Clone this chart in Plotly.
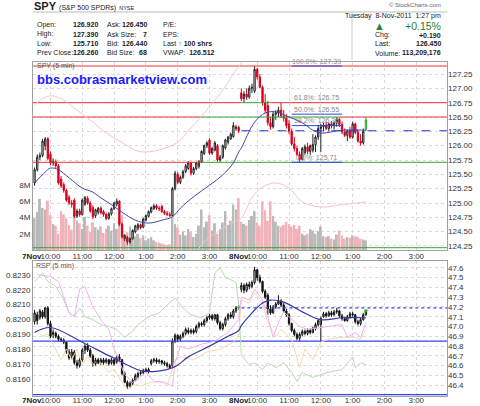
import plotly.graph_objects as go

FONT = "Liberation Sans, Arial, sans-serif"

# ---------------- SPY 5-min bars (7 Nov bars 0-77, 8 Nov bars 78-125) ----------------
spy_open = [
    125.35,125.58,125.80,125.83,126.00,126.12,125.85,125.70,125.72,125.65,
    125.42,125.32,125.22,125.10,125.00,125.05,124.77,124.86,124.80,124.98,
    125.08,125.00,124.92,124.78,124.84,124.91,124.85,124.80,124.73,124.81,
    124.90,124.98,125.03,124.63,124.38,124.40,124.32,124.38,124.50,124.56,
    124.62,124.58,124.70,124.77,124.84,124.90,124.95,124.91,124.94,124.85,
    124.82,124.80,124.78,125.25,125.50,125.36,125.45,125.55,125.60,125.70,
    125.52,125.60,125.64,125.72,125.86,126.00,126.10,125.87,125.92,126.00,
    125.75,125.80,125.96,126.06,126.12,126.16,126.30,126.32,
    126.92,126.82,126.90,126.85,127.00,126.95,127.33,127.20,127.02,126.75,
    126.70,126.40,126.33,126.55,126.57,126.62,126.52,126.48,126.38,126.25,
    126.03,125.95,125.85,125.76,125.88,125.98,125.90,125.92,126.02,126.15,
    126.30,126.33,126.36,126.30,126.38,126.35,126.40,126.46,126.37,126.24,
    126.18,126.26,126.15,126.38,126.23,126.08,126.05,126.28]
spy_high = [
    125.62,125.85,125.88,126.12,126.15,126.15,125.90,125.78,125.76,125.68,
    125.47,125.36,125.25,125.14,125.05,125.08,124.90,124.90,125.08,125.12,
    125.12,125.03,124.96,124.90,124.93,124.94,124.88,124.83,124.84,124.92,
    125.02,125.08,125.05,124.66,124.45,124.43,124.40,124.54,124.62,124.65,
    124.64,124.74,124.80,124.87,124.94,124.98,124.98,124.95,124.97,124.88,
    124.86,124.84,125.28,125.56,125.54,125.48,125.58,125.68,125.73,125.72,
    125.63,125.72,125.75,125.92,126.02,126.08,126.13,125.98,126.08,126.03,
    125.84,126.02,126.12,126.17,126.23,126.41,126.36,126.35,
    127.00,126.95,127.00,127.05,127.08,127.39,127.36,127.25,127.05,126.90,
    126.78,126.50,126.60,126.62,126.68,126.75,126.62,126.55,126.45,126.30,
    126.15,126.00,125.90,125.98,126.02,126.05,126.02,126.20,126.18,126.36,
    126.38,126.40,126.42,126.40,126.43,126.42,126.50,126.48,126.42,126.30,
    126.28,126.33,126.42,126.40,126.28,126.20,126.30,126.50]
spy_low = [
    125.30,125.55,125.75,125.80,125.92,125.75,125.66,125.65,125.60,125.32,
    125.26,125.18,125.02,124.96,124.92,124.74,124.74,124.76,124.78,124.95,
    124.97,124.83,124.72,124.74,124.80,124.80,124.76,124.70,124.71,124.78,
    124.88,124.94,124.60,124.38,124.34,124.27,124.29,124.36,124.47,124.52,
    124.54,124.56,124.68,124.75,124.82,124.88,124.88,124.86,124.83,124.79,
    124.77,124.75,124.76,125.22,125.33,125.33,125.42,125.52,125.58,125.48,
    125.49,125.57,125.60,125.70,125.84,125.96,125.84,125.84,125.90,125.72,
    125.72,125.77,125.93,126.02,126.10,126.14,126.26,126.22,
    126.78,126.75,126.80,126.82,126.92,126.92,127.15,127.00,126.70,126.57,
    126.35,126.28,126.30,126.45,126.50,126.48,126.42,126.30,126.20,126.00,
    125.90,125.82,125.71,125.74,125.84,125.85,125.84,125.88,125.89,126.10,
    125.89,126.25,126.27,126.25,126.30,126.28,126.33,126.33,126.20,126.15,
    126.08,126.12,126.12,126.20,126.05,126.00,126.02,126.26]
spy_close = [
    125.58,125.80,125.83,126.08,126.12,125.78,125.70,125.72,125.65,125.35,
    125.30,125.22,125.05,125.00,124.98,124.77,124.86,124.80,125.05,125.10,
    125.00,124.86,124.76,124.88,124.91,124.83,124.80,124.73,124.81,124.90,
    125.00,125.03,124.63,124.41,124.43,124.32,124.38,124.52,124.60,124.62,
    124.57,124.72,124.78,124.85,124.92,124.95,124.91,124.90,124.85,124.82,
    124.80,124.78,125.25,125.52,125.36,125.45,125.55,125.65,125.70,125.52,
    125.60,125.70,125.72,125.90,126.00,126.05,125.87,125.95,126.05,125.75,
    125.80,126.00,126.10,126.15,126.20,126.35,126.32,126.26,
    126.82,126.90,126.85,127.00,127.02,127.33,127.20,127.02,126.75,126.62,
    126.40,126.33,126.55,126.57,126.62,126.52,126.48,126.35,126.25,126.03,
    125.95,125.85,125.76,125.95,125.98,125.90,126.00,126.02,126.15,126.30,
    126.33,126.36,126.30,126.38,126.35,126.40,126.46,126.37,126.24,126.18,
    126.26,126.15,126.38,126.23,126.08,126.05,126.25,126.45]
spy_volume_m = [
    3.9,4.7,6.3,5.2,5.0,6.1,4.3,3.2,3.0,2.0,
    4.8,4.4,3.9,3.1,2.5,4.5,3.6,3.3,2.6,4.1,
    3.0,2.2,3.4,2.8,2.5,2.9,2.1,2.6,3.0,2.4,
    3.3,2.6,3.8,4.3,2.0,2.2,2.9,2.4,1.7,2.0,
    1.5,1.8,1.2,1.4,1.6,1.2,1.0,0.9,0.8,0.7,
    0.6,0.7,4.0,3.2,2.8,1.9,2.3,1.8,2.6,2.2,
    1.6,2.0,3.0,5.0,2.8,3.5,4.3,2.4,3.3,2.0,
    2.6,3.4,4.8,3.1,3.6,5.6,5.0,6.4,
    3.5,3.2,3.0,3.7,4.2,4.8,3.4,3.0,6.0,4.9,
    3.6,6.0,4.2,3.5,3.0,2.9,3.1,3.5,3.2,2.9,
    3.1,2.6,3.0,2.0,1.8,2.0,2.6,2.4,2.0,2.3,
    2.9,1.7,1.6,1.7,1.4,1.3,1.9,2.4,1.8,1.4,
    1.6,1.5,1.8,1.7,1.6,1.4,1.3,1.2]

# SMA (blue) read at selected bars
spy_sma_bar = [0,4,6,9,13,18,22,25,29,33,38,43,48,52,55,60,66,71,75,77,78,83,87,91,96,101,105,108,116,125]
spy_sma_val = [125.35,125.54,125.61,125.58,125.44,125.26,125.19,125.09,124.97,124.84,124.70,124.65,124.70,
               124.76,124.91,125.11,125.31,125.49,125.70,125.89,125.96,126.41,126.57,126.59,126.50,126.40,
               126.27,126.22,126.27,126.27]
# faint pink overlays in the price panel
pinkA_bar = [0,3,6,10,16,22,27,33,38,42,48,54,59,65,71,76,79]
pinkA_val = [126.71,126.82,126.87,126.82,126.62,126.41,126.22,126.06,125.92,125.89,125.94,126.06,126.31,
             126.62,126.97,127.32,127.50]
pinkB_bar = [61,64,71,75,78,82,86,91,96,101,108,116,125]
pinkB_val = [124.15,124.32,124.56,124.67,124.74,125.09,125.28,125.35,125.26,125.02,124.93,124.97,125.02]

# horizontal levels: (price, start bar, end bar, colour)
level_price = [127.39, 126.75, 126.75, 126.75, 126.50, 126.50, 126.50, 125.71, 125.71, 124.22]
level_start = [-0.6, -0.6, 78, 89, -0.6, 63, 115, -0.6, 63, -0.6]
level_end   = [155.6, 78, 89, 155.6, 63, 115, 155.6, 63, 155.6, 155.6]
level_color = ["red", "red", "green", "red", "red", "green", "red", "red", "green", "green"]
prev_close = 126.26

fib_pct = ["100.0%", "61.8%", "50.0%", "38.2%", "0.0%"]
fib_val = [127.39, 126.75, 126.55, 126.35, 125.71]
fib_start, fib_end = 97, 116

# ---------------- RSP 5-min bars ----------------
rsp_open = [
    47.05,47.12,47.09,47.15,47.10,47.19,47.03,46.92,46.93,46.90,
    46.87,46.86,46.84,46.74,46.70,46.74,46.63,46.60,46.66,46.76,
    46.80,46.76,46.70,46.62,46.66,46.63,46.66,46.64,46.66,46.63,
    46.66,46.64,46.69,46.66,46.52,46.43,46.39,46.42,46.45,46.49,
    46.52,46.53,46.54,46.56,46.62,46.65,46.66,46.64,46.65,46.63,
    46.62,46.60,46.60,46.85,46.91,46.87,46.90,46.93,46.96,46.94,
    46.96,46.95,47.00,47.03,47.02,47.06,47.09,47.11,47.08,47.12,
    47.04,46.98,47.02,47.08,47.12,47.10,47.16,47.19,
    47.38,47.42,47.37,47.43,47.41,47.45,47.58,47.50,47.46,47.36,
    47.32,47.18,47.14,47.20,47.23,47.26,47.22,47.16,47.12,47.03,
    46.96,46.92,46.88,46.92,46.95,46.93,46.96,46.94,46.98,47.02,
    47.02,47.10,47.13,47.11,47.14,47.12,47.15,47.16,47.11,47.08,
    47.06,47.10,47.13,47.12,47.05,47.03,47.07,47.12]
rsp_high = [
    47.17,47.15,47.18,47.17,47.20,47.21,47.06,46.97,46.95,46.92,
    46.89,46.88,46.85,46.77,46.77,46.76,46.66,46.68,46.78,46.82,
    46.83,46.78,46.72,46.68,46.68,46.68,46.68,46.68,46.67,46.68,
    46.67,46.71,46.72,46.67,46.54,46.45,46.44,46.47,46.52,46.54,
    46.55,46.57,46.58,46.58,46.67,46.68,46.68,46.67,46.66,46.65,
    46.64,46.62,46.88,46.93,46.92,46.92,46.95,46.99,46.99,46.98,
    46.98,47.02,47.05,47.05,47.08,47.11,47.13,47.13,47.13,47.13,
    47.06,47.04,47.10,47.14,47.15,47.18,47.21,47.22,
    47.45,47.44,47.45,47.46,47.47,47.61,47.59,47.53,47.47,47.38,
    47.34,47.22,47.22,47.25,47.32,47.28,47.24,47.18,47.14,47.04,
    46.98,46.94,46.94,46.97,46.97,46.98,46.98,47.00,47.04,47.08,
    47.10,47.15,47.15,47.16,47.16,47.17,47.19,47.17,47.13,47.10,
    47.12,47.15,47.15,47.13,47.07,47.09,47.14,47.17]
rsp_low = [
    47.02,47.02,47.07,47.08,47.08,47.01,46.88,46.88,46.88,46.85,
    46.84,46.82,46.72,46.66,46.66,46.61,46.57,46.58,46.64,46.72,
    46.74,46.68,46.59,46.60,46.61,46.61,46.61,46.62,46.60,46.61,
    46.60,46.62,46.64,46.50,46.42,46.36,46.37,46.40,46.44,46.47,
    46.50,46.51,46.53,46.52,46.60,46.63,46.62,46.62,46.61,46.60,
    46.58,46.57,46.58,46.83,46.84,46.85,46.88,46.91,46.92,46.92,
    46.92,46.93,46.98,47.00,47.00,47.04,47.07,47.06,47.06,47.02,
    46.96,46.96,47.00,47.06,47.08,47.08,47.14,47.17,
    47.35,47.34,47.35,47.38,47.39,47.43,47.47,47.44,47.34,47.28,
    47.12,47.12,47.13,47.18,47.22,47.20,47.14,47.10,47.01,46.94,
    46.90,46.86,46.85,46.90,46.91,46.91,46.92,46.93,46.96,47.00,
    46.85,47.09,47.09,47.10,47.10,47.11,47.13,47.09,47.06,47.05,
    47.05,47.08,47.10,47.03,47.01,47.01,47.06,47.11]
rsp_close = [
    47.14,47.06,47.16,47.10,47.19,47.03,46.90,46.94,46.90,46.87,
    46.86,46.84,46.74,46.68,46.74,46.63,46.60,46.66,46.76,46.80,
    46.76,46.70,46.62,46.66,46.63,46.66,46.63,46.66,46.62,46.66,
    46.62,46.69,46.66,46.52,46.43,46.39,46.42,46.45,46.50,46.52,
    46.53,46.55,46.56,46.54,46.65,46.66,46.64,46.65,46.63,46.62,
    46.60,46.58,46.85,46.91,46.87,46.90,46.93,46.97,46.94,46.96,
    46.94,47.00,47.03,47.02,47.06,47.09,47.11,47.08,47.12,47.04,
    46.98,47.02,47.08,47.12,47.10,47.16,47.19,47.20,
    47.42,47.37,47.43,47.41,47.45,47.58,47.50,47.46,47.36,47.30,
    47.18,47.14,47.20,47.23,47.26,47.22,47.16,47.12,47.03,46.96,
    46.92,46.88,46.92,46.95,46.93,46.96,46.94,46.98,47.02,47.06,
    47.08,47.13,47.11,47.14,47.12,47.15,47.16,47.11,47.08,47.06,
    47.10,47.13,47.12,47.05,47.03,47.07,47.12,47.16]

rsp_sma_bar = [0,6,18,29,40,45,53,58,66,73,77,78,86,89,94,101,108,116,125]
rsp_sma_val = [46.94,46.99,46.84,46.69,46.55,46.54,46.59,46.69,46.80,46.90,46.96,47.01,47.24,47.27,47.25,
               47.15,47.07,47.09,47.09]

green_bar = [0,3,5,8,11,13,15,17,19,22,25,28,31,34,37,39,43,47,50,53,56,59,63,66,68,70,72,74,76,77,
             78,81,83,86,88,91,94,97,99,101,105,108,112,116,120,121,123,125]
green_val = [47.46,47.55,47.46,47.41,47.27,47.14,47.10,47.19,47.10,47.07,47.02,47.00,46.97,46.89,46.95,
             47.02,47.10,47.14,47.22,47.29,47.19,47.12,47.09,47.14,47.55,47.60,47.50,47.48,47.45,47.24,
             46.71,46.61,46.63,46.56,46.63,46.58,46.63,46.53,46.44,46.53,46.48,46.51,46.54,46.56,46.69,
             46.58,46.63,46.61]
magenta_bar = [1,6,9,11,13,15,17,19,22,25,28,30,32,34,37,39,42,45,49,52,53,55,58,63,68,73,77,
               78,81,83,86,88,90,92,94,97,100,103,108,112,116,118,121,123,125]
magenta_val = [47.53,47.51,47.46,47.30,47.14,47.10,47.38,47.41,47.20,47.07,46.97,46.77,46.63,46.51,46.43,
               46.46,46.53,46.44,46.43,46.39,46.63,46.80,46.77,46.82,46.85,46.94,47.07,
               47.30,47.27,47.38,47.27,47.10,46.89,47.04,47.15,47.07,47.00,46.97,46.99,47.00,47.02,
               46.89,46.94,46.89,47.04]
orange_bar = [0,3,5,8,10,12,14,16,18,20,23,25,28,30,33,35,38,40,44,48,50,53,55,60,65,70,75,77,
              78,81,83,86,88,91,93,97,99,100,102,105,108,111,116,120,123,125]
orange_val = [46.97,46.90,46.92,46.77,46.66,46.77,46.66,46.77,46.61,46.69,46.59,46.63,46.53,46.56,46.43,
              46.36,46.41,46.39,46.43,46.44,46.39,46.66,46.69,46.66,46.74,46.77,46.84,46.90,
              47.27,47.24,47.35,47.24,47.04,46.90,46.97,46.87,46.69,46.58,46.77,46.66,46.84,46.87,
              46.89,46.89,46.87,46.97]
rsp_levels = [46.85, 46.305]
rsp_dotted = 47.19

# ---------------- axes ticks ----------------
x_tick_bar = [6, 18, 30, 42, 54, 66, 84, 96, 108, 120, 132, 144]
x_tick_txt = ["10:00", "11:00", "12:00", "1:00", "2:00", "3:00",
              "10:00", "11:00", "12:00", "1:00", "2:00", "3:00"]
date_bar = [6, 84]
date_txt = ["7Nov", "8Nov"]
price_ticks = [124.25, 124.50, 124.75, 125.00, 125.25, 125.50, 125.75, 126.00, 126.25,
               126.50, 126.75, 127.00, 127.25]
vol_ticks = [2, 4, 6, 8]
rsp_ticks = [46.4, 46.5, 46.6, 46.7, 46.8, 46.9, 47.0, 47.1, 47.2, 47.3, 47.4, 47.5, 47.6]
ratio_ticks = [0.8160, 0.8170, 0.8180, 0.8190, 0.8200, 0.8210, 0.8220, 0.8230]

# ---------------- build ----------------
W, H = 480, 406
def px(v): return v / W
def py(v): return 1 - v / H

bars = list(range(len(spy_close)))
XR = [-0.6, 155.6]
RED = "#d8001c"

fig = go.Figure()

vol_colors = ["#b9b9b9" if c >= o else "#f1b3b9" for o, c in zip(spy_open, spy_close)]
fig.add_trace(go.Bar(x=bars, y=spy_volume_m, marker_color=vol_colors, marker_line_width=0,
                     width=0.75, xaxis="x", yaxis="y", hoverinfo="skip"))

# horizontal levels
for p, s, e, c in zip(level_price, level_start, level_end, level_color):
    col = "#ee3333" if c == "red" else "#33a333"
    fig.add_trace(go.Scatter(x=[s, e], y=[p, p], mode="lines", line=dict(color=col, width=1),
                             xaxis="x", yaxis="y2", hoverinfo="skip"))
fig.add_trace(go.Scatter(x=[78, 155.6], y=[prev_close, prev_close], mode="lines",
                         line=dict(color="#2233dd", width=1, dash="dash"), xaxis="x", yaxis="y2"))
for pct, v in zip(fib_pct, fib_val):
    if pct != "61.8%":
        fig.add_trace(go.Scatter(x=[fib_start, fib_end], y=[v, v], mode="lines",
                                 line=dict(color="#3344dd", width=1), xaxis="x", yaxis="y2"))

fig.add_trace(go.Scatter(x=pinkA_bar, y=pinkA_val, mode="lines", line=dict(color="#f5c6c6", width=1, shape="spline"),
                         xaxis="x", yaxis="y2"))
fig.add_trace(go.Scatter(x=pinkB_bar, y=pinkB_val, mode="lines", line=dict(color="#f5c6c6", width=1, shape="spline"),
                         xaxis="x", yaxis="y2"))
fig.add_trace(go.Scatter(x=spy_sma_bar, y=spy_sma_val, mode="lines", line=dict(color="#4444aa", width=1, shape="spline"),
                         xaxis="x", yaxis="y2"))

fig.add_trace(go.Candlestick(
    x=bars[:-1], open=spy_open[:-1], high=spy_high[:-1], low=spy_low[:-1], close=spy_close[:-1],
    increasing=dict(line=dict(color="#222222", width=1), fillcolor="#ffffff"),
    decreasing=dict(line=dict(color=RED, width=1), fillcolor=RED),
    whiskerwidth=0, xaxis="x", yaxis="y2", hoverinfo="skip"))
fig.add_trace(go.Candlestick(
    x=bars[-1:], open=spy_open[-1:], high=spy_high[-1:], low=spy_low[-1:], close=spy_close[-1:],
    increasing=dict(line=dict(color="#22aa22", width=1), fillcolor="#ffffff"),
    decreasing=dict(line=dict(color="#22aa22", width=1), fillcolor="#22aa22"),
    whiskerwidth=0, xaxis="x", yaxis="y2", hoverinfo="skip"))

# fib labels
annotations = []
for pct, v in zip(fib_pct, fib_val):
    annotations.append(dict(x=(fib_start + fib_end) / 2, y=v, xref="x", yref="y2", yshift=5,
                            text=f"{pct}: {v:.2f}", showarrow=False,
                            font=dict(size=7, color="#8a8a8a", family=FONT)))

# date prefixes in front of the first hour label of each day (both time axes)
for xr, ylab in (("x", 256), ("x2", 400)):
    for b, t in zip(date_bar, date_txt):
        annotations.append(dict(x=b, y=py(ylab), xref=xr, yref="paper", xanchor="right", yanchor="middle",
                                xshift=-7, borderpad=0, text=f"<b>{t}</b>", showarrow=False,
                                font=dict(size=8, color="#222", family=FONT)))

# ---- lower panel ----
fig.add_trace(go.Scatter(x=[0], y=[0.82], mode="markers", marker=dict(opacity=0), xaxis="x2", yaxis="y3",
                         hoverinfo="skip"))
for lv in rsp_levels:
    fig.add_trace(go.Scatter(x=XR, y=[lv, lv], mode="lines", line=dict(color="#3344ee", width=1.2),
                             xaxis="x2", yaxis="y4", hoverinfo="skip"))
fig.add_trace(go.Scatter(x=[78, 155.6], y=[rsp_dotted, rsp_dotted], mode="lines",
                         line=dict(color="#3344ee", width=1.2, dash="dot"), xaxis="x2", yaxis="y4"))
fig.add_trace(go.Scatter(x=green_bar, y=green_val, mode="lines", line=dict(color="#b9d9b4", width=1),
                         xaxis="x2", yaxis="y4"))
fig.add_trace(go.Scatter(x=orange_bar, y=orange_val, mode="lines", line=dict(color="#f6d9b0", width=1),
                         xaxis="x2", yaxis="y4"))
fig.add_trace(go.Scatter(x=magenta_bar, y=magenta_val, mode="lines", line=dict(color="#f2b0ee", width=1),
                         xaxis="x2", yaxis="y4"))
fig.add_trace(go.Scatter(x=rsp_sma_bar, y=rsp_sma_val, mode="lines", line=dict(color="#3a3aa8", width=1.2, shape="spline"),
                         xaxis="x2", yaxis="y4"))
fig.add_trace(go.Candlestick(
    x=bars, open=rsp_open, high=rsp_high, low=rsp_low, close=rsp_close,
    increasing=dict(line=dict(color="#111111", width=1), fillcolor="#ffffff"),
    decreasing=dict(line=dict(color="#111111", width=1), fillcolor="#111111"),
    whiskerwidth=0, xaxis="x2", yaxis="y4", hoverinfo="skip"))
fig.add_trace(go.Scatter(x=bars[-1:], y=rsp_close[-1:], mode="markers",
                         marker=dict(color="#22aa22", size=3, symbol="square"), xaxis="x2", yaxis="y4"))

# ---- header texts ----
def T(text, x, y, xa="left", size=7, color="#222", bold=False):
    annotations.append(dict(x=px(x), y=py(y), xref="paper", yref="paper", xanchor=xa, yanchor="middle",
                            text=f"<b>{text}</b>" if bold else text, showarrow=False,
                            font=dict(size=size, color=color, family=FONT)))

T("<b>SPY</b> <span style='font-size:7px'>(S&P 500 SPDRs)</span> <span style='font-size:5.5px'>NYSE</span>",
  32, 6, size=11)
rows = [25, 34, 43, 52]
T("Open:", 35, rows[0]); T("126.920", 100, rows[0], "right", bold=True)
T("High:", 35, rows[1]); T("127.390", 100, rows[1], "right", bold=True)
T("Low:", 35, rows[2]); T("125.710", 100, rows[2], "right", bold=True)
T("Prev Close:", 35, rows[3]); T("126.260", 100, rows[3], "right", bold=True)
T("Ask:", 105, rows[0]); T("126.450", 149, rows[0], "right", bold=True)
T("Ask Size:", 105, rows[1]); T("7", 149, rows[1], "right", bold=True)
T("Bid:", 105, rows[2]); T("126.440", 149, rows[2], "right", bold=True)
T("Bid Size:", 105, rows[3]); T("68", 149, rows[3], "right", bold=True)
T("P/E:", 161, rows[0]); T("EPS:", 161, rows[1])
T("Last <span style='color:#228822'>↑</span> <b>100 shrs</b>", 161, rows[2])
T("VWAP:  <b>126.512</b>", 161, rows[3])
T("© StockCharts.com", 443, 5, "right", size=6, color="#666")
T("Tuesday  8-Nov-2011  1:27 pm", 443, 16, "right", size=7)
T("▲", 372, 26, size=11, color="#2d7d32")
T("+0.15%", 443, 26, "right", size=10.5, color="#2d7d32")
T("Chg:", 373, 35); T("+0.190", 443, 35, "right", bold=True)
T("Last:", 373, 44); T("126.450", 443, 44, "right", bold=True)
T("Volume:", 373, 53); T("113,209,176", 443, 53, "right", bold=True)
T("SPY (5 min)", 35, 66, size=7, color="#555")
T("bbs.cobrasmarketview.com", 35, 80, size=13, color="#1a1aff", bold=True)
T("RSP (5 min)", 34, 266, size=7, color="#555")

shapes = [
    dict(type="line", xref="paper", yref="paper", x0=px(33), x1=px(447), y0=py(12), y1=py(12),
         line=dict(color="#bbbbbb", width=1)),
    dict(type="line", xref="paper", yref="paper", x0=px(352), x1=px(352), y0=py(12), y1=py(60),
         line=dict(color="#cccccc", width=1)),
]

grid = dict(showgrid=True, gridcolor="#d9d9d9", griddash="dot", gridwidth=1)
xcommon = dict(domain=[px(33), px(447)], range=XR, tickvals=x_tick_bar, ticktext=x_tick_txt,
               ticks="", zeroline=False, showline=True, mirror=True, linecolor="#a0a0a0",
               tickangle=0, automargin=False,
               tickfont=dict(size=8, color="#333", family=FONT), rangeslider=dict(visible=False), **grid)
ycommon = dict(automargin=False, zeroline=False, ticks="", tickfont=dict(size=8, color="#333", family=FONT))

fig.update_layout(
    width=W, height=H, margin=dict(l=0, r=0, t=0, b=0, autoexpand=False),
    paper_bgcolor="white", plot_bgcolor="white", showlegend=False,
    font=dict(family=FONT, size=8, color="#333"),
    xaxis=dict(anchor="y", ticklabelstandoff=-2, **xcommon),
    xaxis2=dict(anchor="y3", ticklabelstandoff=-4, **xcommon),
    yaxis=dict(domain=[py(250), py(62)], range=[0, 23.2], side="left", tickvals=vol_ticks,
               ticktext=[f"{v}M" for v in vol_ticks], showgrid=False,
               showline=True, mirror=True, linecolor="#a0a0a0", **ycommon),
    yaxis2=dict(overlaying="y", side="right", range=[124.18, 127.46], tickvals=price_ticks,
                ticktext=[f"{v:.2f}" for v in price_ticks], **grid, **ycommon),
    yaxis3=dict(domain=[py(396), py(261)], range=[0.81487, 0.82393], side="left", tickvals=ratio_ticks,
                ticktext=[f"{v:.4f}" for v in ratio_ticks], showgrid=False,
                showline=True, mirror=True, linecolor="#a0a0a0", **ycommon),
    yaxis4=dict(overlaying="y3", side="right", range=[46.29, 47.67], tickvals=rsp_ticks,
                ticktext=[f"{v:.1f}" for v in rsp_ticks], **grid, **ycommon),
    annotations=annotations, shapes=shapes,
)

fig.write_html("out.html")
